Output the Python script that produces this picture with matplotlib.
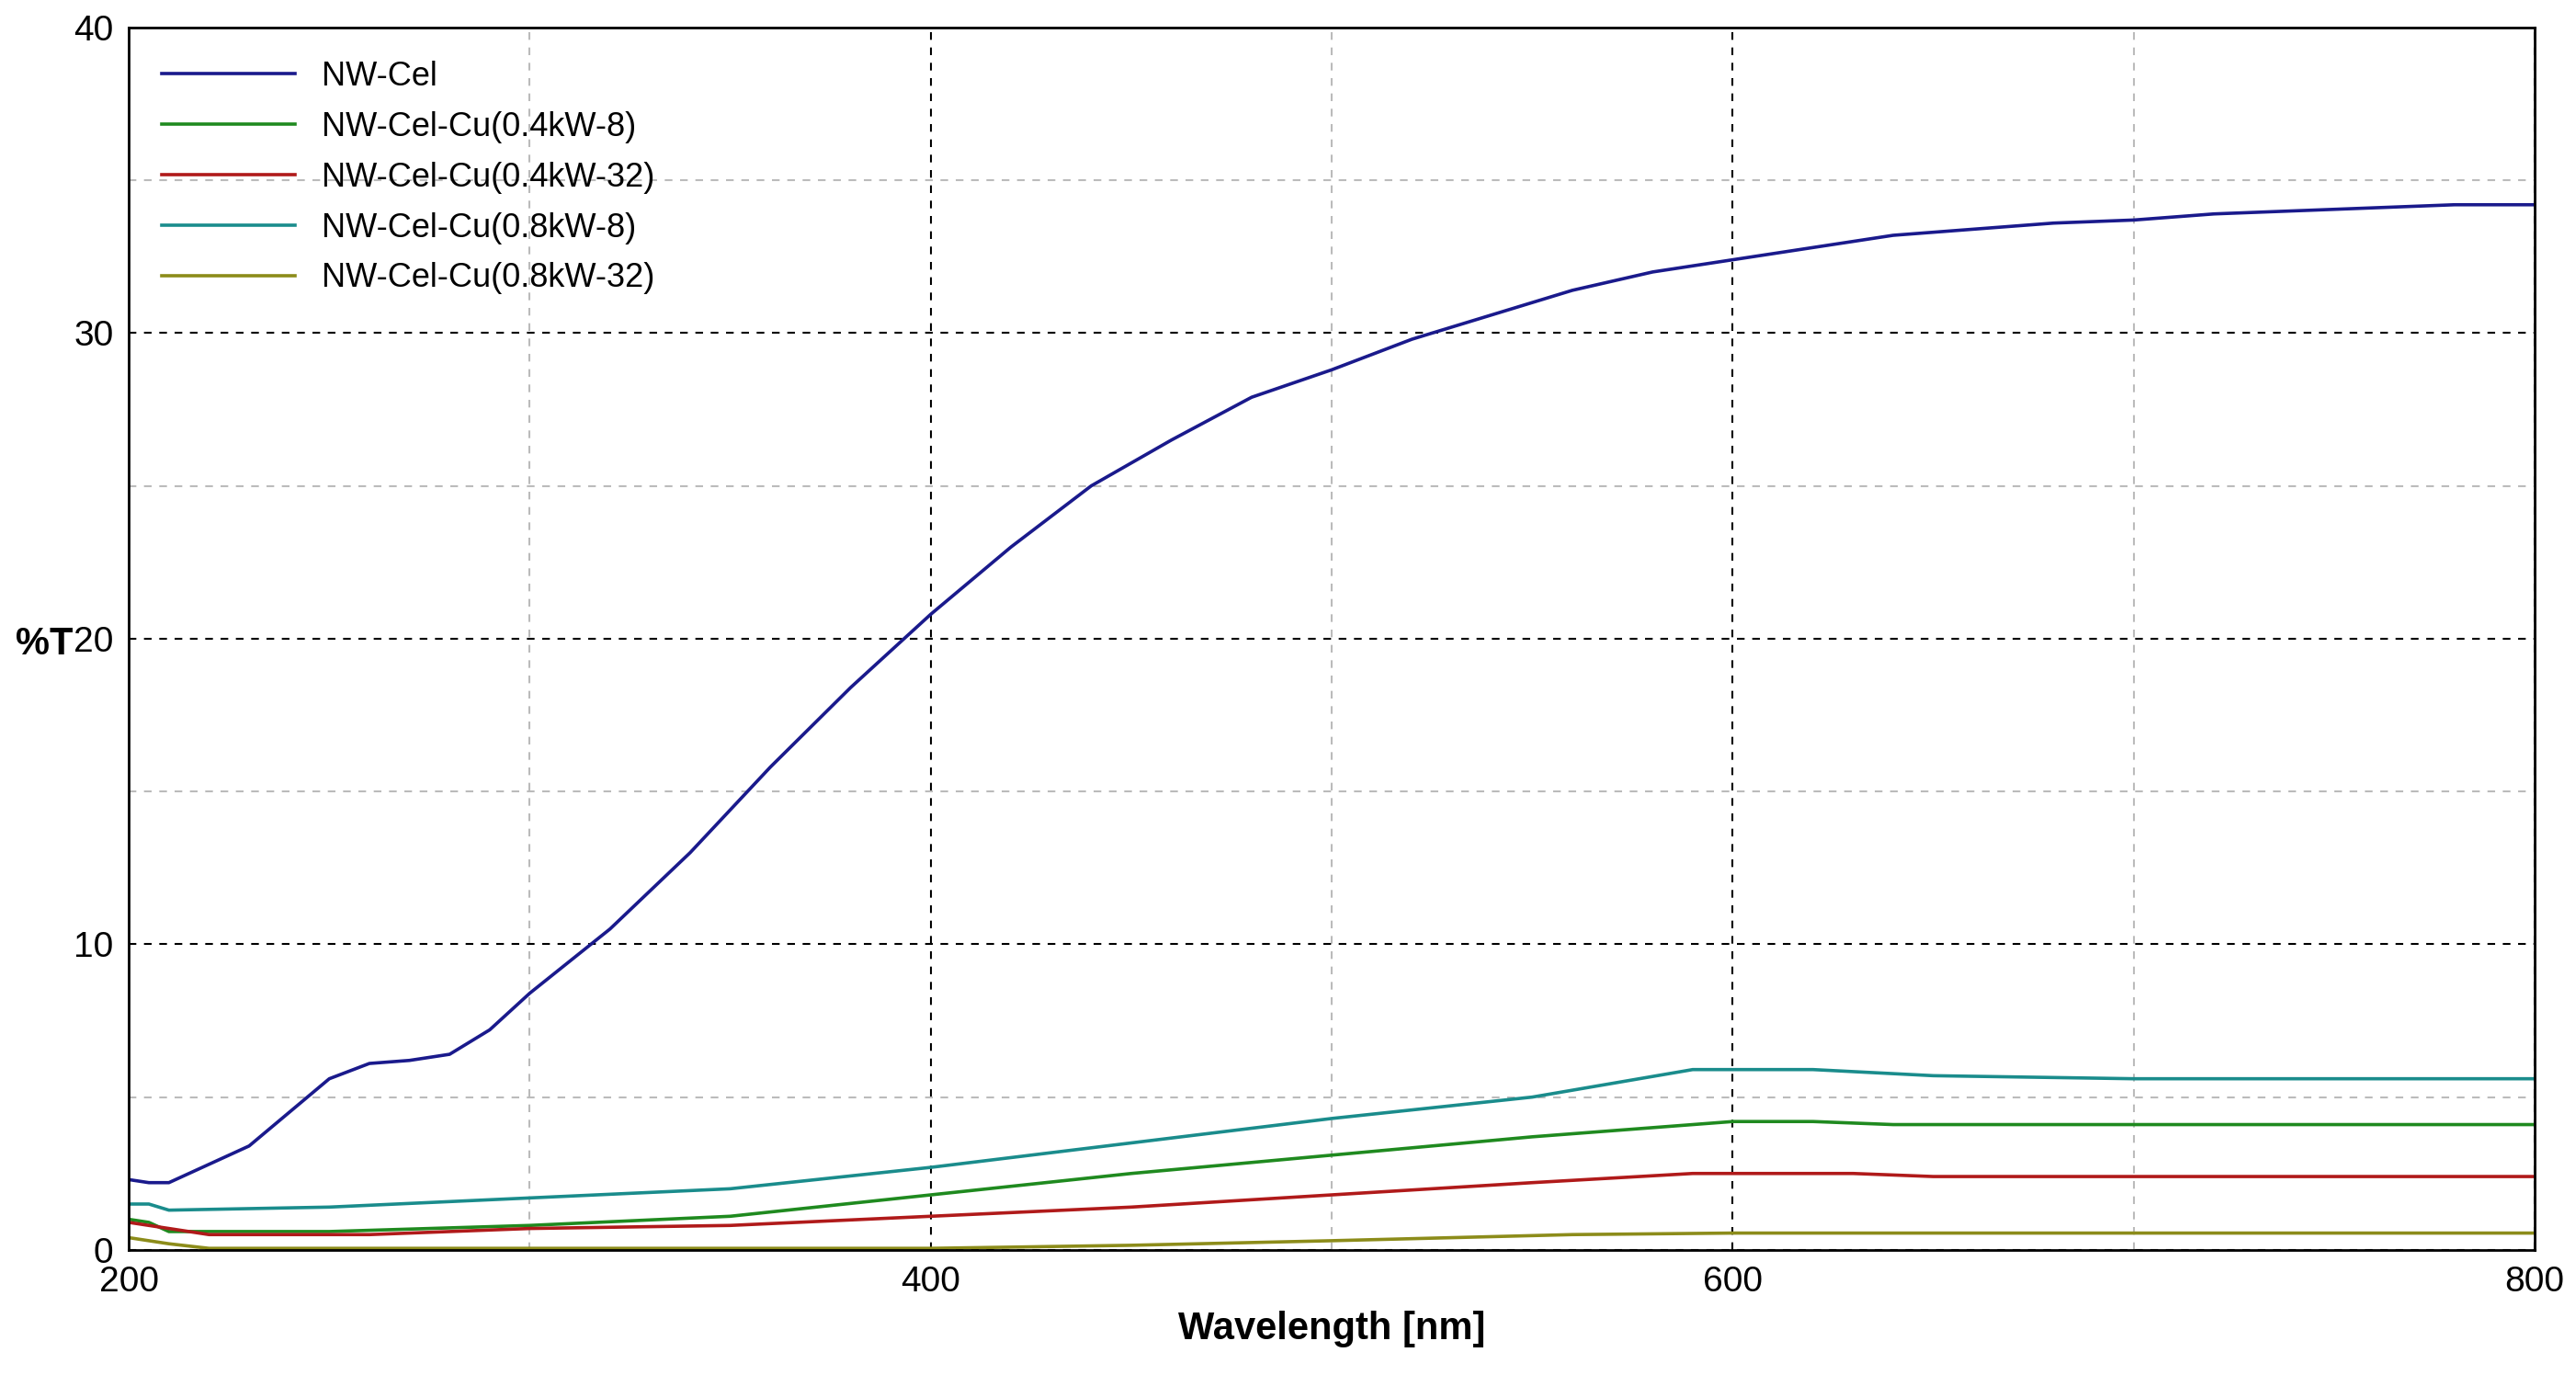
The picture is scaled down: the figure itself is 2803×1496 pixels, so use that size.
import matplotlib
matplotlib.use("Agg")
import matplotlib.pyplot as plt
from matplotlib.ticker import MultipleLocator

plt.rcParams['font.family'] = ['Liberation Sans', 'DejaVu Sans']

x_cel = [200,205,210,220,230,240,250,260,270,280,290,300,320,340,360,380,400,420,440,460,480,500,520,540,560,580,600,620,640,660,680,700,720,740,760,780,800]
y_cel = [2.3,2.2,2.2,2.8,3.4,4.5,5.6,6.1,6.2,6.4,7.2,8.4,10.5,13,15.8,18.4,20.8,23,25,26.5,27.9,28.8,29.8,30.6,31.4,32,32.4,32.8,33.2,33.4,33.6,33.7,33.9,34,34.1,34.2,34.2]
x_08_8 = [200,205,210,250,300,350,400,450,500,550,590,620,650,700,800]
y_08_8 = [1.5,1.5,1.3,1.4,1.7,2.0,2.7,3.5,4.3,5.0,5.9,5.9,5.7,5.6,5.6]
x_04_8 = [200,205,210,250,300,350,400,450,500,550,600,620,640,800]
y_04_8 = [1.0,0.9,0.6,0.6,0.8,1.1,1.8,2.5,3.1,3.7,4.2,4.2,4.1,4.1]
x_04_32 = [200,210,220,260,300,350,400,450,500,550,590,630,650,800]
y_04_32 = [0.9,0.7,0.5,0.5,0.7,0.8,1.1,1.4,1.8,2.2,2.5,2.5,2.4,2.4]
x_08_32 = [200,210,220,400,450,500,560,600,800]
y_08_32 = [0.4,0.2,0.05,0.05,0.15,0.3,0.5,0.55,0.55]

labels = ["NW-Cel","NW-Cel-Cu(0.4kW-8)","NW-Cel-Cu(0.4kW-32)","NW-Cel-Cu(0.8kW-8)","NW-Cel-Cu(0.8kW-32)"]
colors = ["#1a1a8c","#1f8a1f","#b01a1a","#1a8c8c","#8c8c1a"]

fig = plt.figure(figsize=(28.03,14.96), dpi=100)
ax = fig.add_axes([0.05,0.091,0.934,0.889])
for (xs,ys),lab,c in zip([(x_cel,y_cel),(x_04_8,y_04_8),(x_04_32,y_04_32),(x_08_8,y_08_8),(x_08_32,y_08_32)],labels,colors):
    ax.plot(xs,ys,color=c,lw=2.6,label=lab)
ax.set_xlim(200,800); ax.set_ylim(0,40)
ax.xaxis.set_major_locator(MultipleLocator(200)); ax.xaxis.set_minor_locator(MultipleLocator(100))
ax.yaxis.set_major_locator(MultipleLocator(10)); ax.yaxis.set_minor_locator(MultipleLocator(5))
ax.grid(which='major',color='black',ls=(0,(4,4)),lw=1.5)
ax.grid(which='minor',color='#bbbbbb',ls=(0,(4,4)),lw=1.5)
ax.tick_params(which='both',length=0,labelsize=28,pad=12)
for s in ax.spines.values(): s.set_linewidth(2)
ax.set_xlabel("Wavelength [nm]",fontsize=30,fontweight='bold',labelpad=10)
ax.set_ylabel("%T",fontsize=30,fontweight='bold',rotation=0,labelpad=20)
ax.yaxis.set_label_coords(-0.035,0.48)
ax.legend(loc='upper left',frameon=False,fontsize=26,handlelength=4,borderaxespad=0.6,labelspacing=0.55)
fig.savefig("out.png",dpi=100)
